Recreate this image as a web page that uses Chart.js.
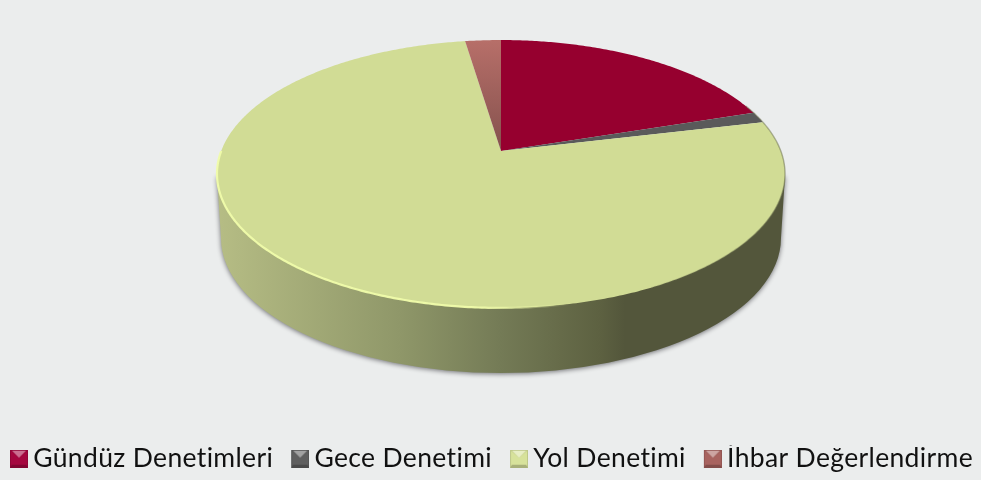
<!DOCTYPE html>
<html><head><meta charset="utf-8">
<style>html,body{margin:0;padding:0;background:#ebeded}canvas{display:block}</style>
<script src="https://cdn.jsdelivr.net/npm/chart.js@4"></script>
</head><body><canvas id="c" width="981" height="480"></canvas>
<script>
const categories = ["Gündüz Denetimleri", "Gece Denetimi", "Yol Denetimi", "İhbar Değerlendirme"];
const values = [20, 1.3, 76.3, 2.4];
const percentLabels = ["% 20", "% 1", "% 76", "% 2"];
const sliceColors = ["#96002f", "#5a5a5a", "#d1dc95", "#a8635f"];
const iconColors = ["#a5073f", "#5f5f5f", "#d7e29b", "#a8635f"];
const labelCentres = [[690, 44], [800, 116], [283, 361], [473, 16]];

const FONT = "Lato";
const G = {cx: 501, cy: 151, r: 279.8, s: 130, k: 0.1716};
function proj(a){
  const x = Math.cos(a), y = Math.sin(a), w = 1 - G.k * y;
  return [G.cx + G.r * x / w, G.cy + G.s * y / w];
}
function tracePath(ctx, a0, a1, move){
  const n = Math.max(2, Math.ceil(Math.abs(a1 - a0) / 0.01));
  for (let i = 0; i <= n; i++){
    const p = proj(a0 + (a1 - a0) * i / n);
    if (i === 0 && move) ctx.moveTo(p[0], p[1]); else ctx.lineTo(p[0], p[1]);
  }
}
function drawSide(ctx){
  const g = ctx.createLinearGradient(221, 0, 781, 0);
  const stop = x => (x - 221) / 560;
  g.addColorStop(0, "#b5bc84");
  g.addColorStop(stop(400), "#8f9769");
  g.addColorStop(stop(500), "#747b56");
  g.addColorStop(stop(600), "#5d6141");
  g.addColorStop(stop(625), "#53563b");
  g.addColorStop(1, "#53563b");
  ctx.save();
  ctx.shadowColor = "rgba(70,70,75,0.75)";
  ctx.shadowBlur = 5;
  ctx.shadowOffsetY = 1;
  ctx.fillStyle = g;
  ctx.beginPath();
  ctx.moveTo(217, 176);
  ctx.lineTo(221, 238);
  ctx.ellipse(501, 238, 280, 135, 0, Math.PI, 0, true);
  ctx.lineTo(785, 176);
  ctx.closePath();
  ctx.fill();
  ctx.restore();
}
const LEGEND_SHIFT_X = -8, LEGEND_SHIFT_Y = 2;
const SPACING = "0.35px";
const pie3d = {
  id: "pie3d",
  beforeLayout(chart){ chart.ctx.letterSpacing = SPACING; },
  afterLayout(chart){
    const l = chart.legend;
    l.left += LEGEND_SHIFT_X; l.right += LEGEND_SHIFT_X;
    l.top += LEGEND_SHIFT_Y; l.bottom += LEGEND_SHIFT_Y;
  },
  beforeDatasetsDraw(chart){
    const ctx = chart.ctx, arcs = chart.getDatasetMeta(0).data;
    drawSide(ctx);
    arcs.forEach((arc, i) => {
      let fill = sliceColors[i];
      if (i === 3){
        const g = ctx.createLinearGradient(0, 40, 0, 151);
        g.addColorStop(0, "#b76f69");
        g.addColorStop(1, "#84514d");
        fill = g;
      }
      ctx.fillStyle = fill;
      ctx.beginPath();
      ctx.moveTo(G.cx, G.cy);
      tracePath(ctx, arc.startAngle, arc.endAngle, false);
      ctx.closePath();
      ctx.fill();
    });
    const rim = ctx.createLinearGradient(217, 0, 570, 0);
    rim.addColorStop(0, "rgba(240,252,170,0.95)");
    rim.addColorStop(0.75, "rgba(240,252,170,0.95)");
    rim.addColorStop(1, "rgba(240,252,170,0)");
    ctx.strokeStyle = rim;
    ctx.lineWidth = 2.2;
    ctx.beginPath();
    tracePath(ctx, Math.PI * 1.0, Math.PI * 0.42, true);
    ctx.stroke();
    const edge = ctx.createLinearGradient(600, 0, 785, 0);
    edge.addColorStop(0, "rgba(110,115,80,0)");
    edge.addColorStop(1, "rgba(110,115,80,0.55)");
    ctx.strokeStyle = edge;
    ctx.lineWidth = 1.4;
    ctx.beginPath();
    tracePath(ctx, Math.PI * 0.35, -Math.PI * 0.12, true);
    ctx.stroke();
    return false;
  },
  afterDatasetsDraw(chart){
    const ctx = chart.ctx;
    ctx.save();
    ctx.fillStyle = "#111";
    ctx.font = "26px " + FONT;
    ctx.textAlign = "center";
    ctx.textBaseline = "middle";
    percentLabels.forEach((t, i) => ctx.fillText(t, labelCentres[i][0], labelCentres[i][1]));
    ctx.restore();
  },
  beforeDraw(chart){
    const ctx = chart.ctx;
    ctx.letterSpacing = SPACING;
    ctx.save();
    ctx.fillStyle = "#ebeded";
    ctx.fillRect(0, 0, chart.width, chart.height);
    ctx.restore();
  }
};
function shade(hex, f){
  const n = parseInt(hex.slice(1), 16);
  const m = c => Math.round(f >= 0 ? c + (255 - c) * f : c * (1 + f));
  return `rgb(${m(n >> 16)},${m((n >> 8) & 255)},${m(n & 255)})`;
}
function makeIcon(color){
  const c = document.createElement("canvas");
  c.width = 44; c.height = 18;
  const x = c.getContext("2d"), S = 18;
  x.translate(26, 0);
  x.fillStyle = shade(color, -0.12); x.fillRect(0, 0, S, S);
  const poly = (pts, col) => { x.fillStyle = col; x.beginPath(); pts.forEach((p, i) => i ? x.lineTo(p[0], p[1]) : x.moveTo(p[0], p[1])); x.closePath(); x.fill(); };
  poly([[1,1],[S/2,8],[S-1,1],[S-1,S-2],[1,S-2]], color);
  poly([[2,1],[S-2,1],[S/2,8]], shade(color, 0.42));
  poly([[0,S],[S,S],[S-2,S-3],[2,S-3]], shade(color, -0.22));
  return c;
}
const icons = iconColors.map(makeIcon);
new Chart(document.getElementById("c"), {
  type: "pie",
  data: {labels: categories, datasets: [{data: values, backgroundColor: sliceColors, borderWidth: 0}]},
  plugins: [pie3d],
  options: {
    responsive: false,
    animation: false,
    layout: {padding: {left: -30, right: -30}},
    plugins: {
      tooltip: {enabled: false},
      legend: {
        position: "bottom",
        labels: {
          usePointStyle: true,
          pointStyleWidth: 28,
          boxHeight: 44,
          padding: 0,
          color: "#111",
          font: {family: FONT, size: 26.5},
          generateLabels(chart){
            return categories.map((t, i) => ({text: t, pointStyle: icons[i], fontColor: "#111", hidden: false, index: i, lineWidth: 0}));
          }
        }
      }
    }
  }
});
</script></body></html>
